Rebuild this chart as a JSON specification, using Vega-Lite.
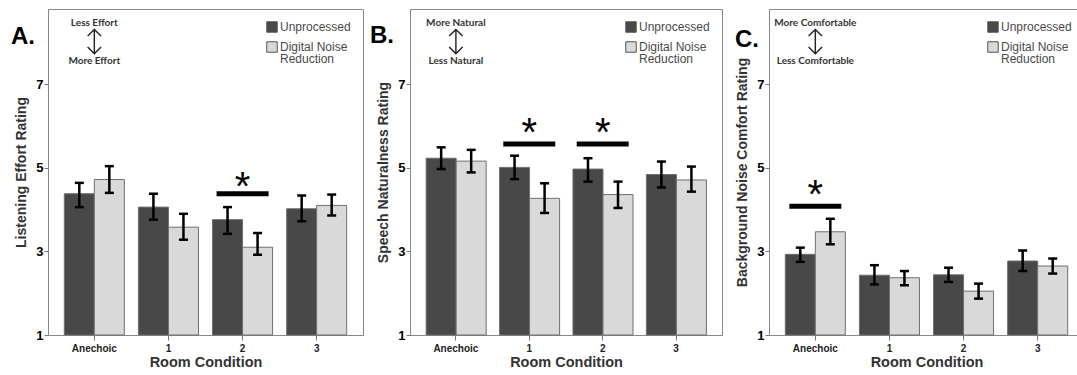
{
  "$schema": "https://vega.github.io/schema/vega-lite/v6.json",
  "padding": {"left": 10, "top": 8, "right": 0, "bottom": 0},
  "background": "white",
  "bounds": "flush",
  "spacing": 47,
  "config": {
    "view": {"stroke": "#888888", "strokeWidth": 1},
    "axis": {"labelFont": "Liberation Sans", "titleFont": "Liberation Sans", "grid": false, "domainColor": "#888888", "tickColor": "#777777"},
    "legend": {"labelFont": "Liberation Sans"},
    "style": {"guide-label": {"lineHeight": 12}}
  },
  "resolve": {"scale": {"color": "independent"}},
  "datasets": {
    "bars": [
      {"panel": "A", "room": "Anechoic", "proc": "Unprocessed", "mean": 4.38, "lo": 4.06, "hi": 4.64},
      {"panel": "A", "room": "Anechoic", "proc": "Digital Noise Reduction", "mean": 4.72, "lo": 4.40, "hi": 5.04},
      {"panel": "A", "room": "1", "proc": "Unprocessed", "mean": 4.06, "lo": 3.76, "hi": 4.38},
      {"panel": "A", "room": "1", "proc": "Digital Noise Reduction", "mean": 3.58, "lo": 3.28, "hi": 3.90},
      {"panel": "A", "room": "2", "proc": "Unprocessed", "mean": 3.76, "lo": 3.42, "hi": 4.06},
      {"panel": "A", "room": "2", "proc": "Digital Noise Reduction", "mean": 3.10, "lo": 2.92, "hi": 3.44},
      {"panel": "A", "room": "3", "proc": "Unprocessed", "mean": 4.02, "lo": 3.72, "hi": 4.34},
      {"panel": "A", "room": "3", "proc": "Digital Noise Reduction", "mean": 4.10, "lo": 3.86, "hi": 4.36},
      {"panel": "B", "room": "Anechoic", "proc": "Unprocessed", "mean": 5.23, "lo": 4.97, "hi": 5.49},
      {"panel": "B", "room": "Anechoic", "proc": "Digital Noise Reduction", "mean": 5.16, "lo": 4.89, "hi": 5.43},
      {"panel": "B", "room": "1", "proc": "Unprocessed", "mean": 5.01, "lo": 4.73, "hi": 5.29},
      {"panel": "B", "room": "1", "proc": "Digital Noise Reduction", "mean": 4.27, "lo": 3.92, "hi": 4.63},
      {"panel": "B", "room": "2", "proc": "Unprocessed", "mean": 4.97, "lo": 4.67, "hi": 5.23},
      {"panel": "B", "room": "2", "proc": "Digital Noise Reduction", "mean": 4.36, "lo": 4.04, "hi": 4.67},
      {"panel": "B", "room": "3", "proc": "Unprocessed", "mean": 4.84, "lo": 4.53, "hi": 5.15},
      {"panel": "B", "room": "3", "proc": "Digital Noise Reduction", "mean": 4.71, "lo": 4.43, "hi": 5.03},
      {"panel": "C", "room": "Anechoic", "proc": "Unprocessed", "mean": 2.93, "lo": 2.75, "hi": 3.09},
      {"panel": "C", "room": "Anechoic", "proc": "Digital Noise Reduction", "mean": 3.47, "lo": 3.17, "hi": 3.78},
      {"panel": "C", "room": "1", "proc": "Unprocessed", "mean": 2.43, "lo": 2.21, "hi": 2.67},
      {"panel": "C", "room": "1", "proc": "Digital Noise Reduction", "mean": 2.37, "lo": 2.19, "hi": 2.53},
      {"panel": "C", "room": "2", "proc": "Unprocessed", "mean": 2.44, "lo": 2.27, "hi": 2.61},
      {"panel": "C", "room": "2", "proc": "Digital Noise Reduction", "mean": 2.05, "lo": 1.87, "hi": 2.23},
      {"panel": "C", "room": "3", "proc": "Unprocessed", "mean": 2.77, "lo": 2.53, "hi": 3.02},
      {"panel": "C", "room": "3", "proc": "Digital Noise Reduction", "mean": 2.65, "lo": 2.47, "hi": 2.83}
    ],
    "sig": [
      {"panel": "A", "room": "2", "bar": 4.38, "star": 4.70},
      {"panel": "B", "room": "1", "bar": 5.57, "star": 6.0},
      {"panel": "B", "room": "2", "bar": 5.57, "star": 6.0},
      {"panel": "C", "room": "Anechoic", "bar": 4.08, "star": 4.52}
    ],
    "notes": [
      {"panel": "A", "room": "Anechoic", "label": "Less Effort", "y": 8.47},
      {"panel": "A", "room": "Anechoic", "label": "More Effort", "y": 7.56},
      {"panel": "B", "room": "Anechoic", "label": "More Natural", "y": 8.47},
      {"panel": "B", "room": "Anechoic", "label": "Less Natural", "y": 7.56},
      {"panel": "C", "room": "Anechoic", "label": "More Comfortable", "y": 8.47},
      {"panel": "C", "room": "Anechoic", "label": "Less Comfortable", "y": 7.56}
    ],
    "arrows": [
      {"panel": "A", "room": "Anechoic", "y": 8.02},
      {"panel": "B", "room": "Anechoic", "y": 8.02},
      {"panel": "C", "room": "Anechoic", "y": 8.02}
    ]
  },
  "hconcat": [
    {
      "width": 315, "height": 326,
      "title": {"text": "A.", "anchor": "start", "frame": "group", "orient": "top", "font": "Liberation Sans", "fontSize": 24, "fontWeight": "bold", "color": "black", "dx": -37, "dy": 59, "offset": 0, "baseline": "alphabetic"},
      "encoding": {
        "x": {"field": "room", "type": "nominal", "sort": ["Anechoic", "1", "2", "3"], "scale": {"paddingInner": 0.19, "paddingOuter": 0.22}, "title": "Room Condition",
          "axis": {"labelAngle": 0, "labelFontSize": 10, "labelFontWeight": "bold", "labelColor": "#222222", "tickSize": 5, "labelPadding": 3, "titleFontSize": 14.5, "titleFontWeight": "bold", "titleColor": "#333333", "titlePadding": 2}}
      },
      "layer": [
        {
          "data": {"name": "bars"}, "transform": [{"filter": "datum.panel == 'A'"}],
          "mark": {"type": "bar", "stroke": "#6f6f6f", "strokeWidth": 1},
          "encoding": {
            "xOffset": {"field": "proc", "type": "nominal", "sort": ["Unprocessed", "Digital Noise Reduction"], "scale": {"paddingInner": 0, "paddingOuter": 0}},
            "y": {"field": "mean", "type": "quantitative", "scale": {"domain": [1, 8.8], "nice": false, "zero": false}, "title": "Listening Effort Rating",
              "axis": {"values": [1, 3, 5, 7], "tickSize": 4, "labelPadding": 1, "labelFontSize": 13, "labelFontWeight": "bold", "labelColor": "black", "titleFontSize": 14, "titleFontWeight": "bold", "titleColor": "#333333", "titlePadding": 7}},
            "y2": {"datum": 1},
            "color": {"field": "proc", "type": "nominal", "scale": {"domain": ["Unprocessed", "Digital Noise Reduction"], "range": ["#484848", "#d9d9d9"]},
              "legend": {"title": null, "orient": "top-right", "offset": 12, "padding": 0, "symbolType": "square", "symbolSize": 110, "symbolStrokeColor": "#555555", "symbolStrokeWidth": 1, "labelFontSize": 12, "labelColor": "#4a4a4a", "labelOffset": 2, "rowPadding": 4, "labelLimit": 200,
                "labelExpr": "datum.label == 'Digital Noise Reduction' ? ['Digital Noise', 'Reduction'] : datum.label"}}
          }
        },
        {
          "data": {"name": "bars"}, "transform": [{"filter": "datum.panel == 'A'"}],
          "mark": {"type": "rule", "color": "black", "strokeWidth": 2.5},
          "encoding": {"xOffset": {"field": "proc", "type": "nominal", "sort": ["Unprocessed", "Digital Noise Reduction"]}, "y": {"field": "lo", "type": "quantitative"}, "y2": {"field": "hi"}}
        },
        {
          "data": {"name": "bars"}, "transform": [{"filter": "datum.panel == 'A'"}],
          "mark": {"type": "tick", "color": "black", "size": 9, "thickness": 2.5, "opacity": 1},
          "encoding": {"xOffset": {"field": "proc", "type": "nominal", "sort": ["Unprocessed", "Digital Noise Reduction"]}, "y": {"field": "lo", "type": "quantitative"}}
        },
        {
          "data": {"name": "bars"}, "transform": [{"filter": "datum.panel == 'A'"}],
          "mark": {"type": "tick", "color": "black", "size": 9, "thickness": 2.5, "opacity": 1},
          "encoding": {"xOffset": {"field": "proc", "type": "nominal", "sort": ["Unprocessed", "Digital Noise Reduction"]}, "y": {"field": "hi", "type": "quantitative"}}
        },
        {
          "data": {"name": "sig"}, "transform": [{"filter": "datum.panel == 'A'"}],
          "mark": {"type": "tick", "color": "black", "size": 52, "thickness": 5, "opacity": 1},
          "encoding": {"y": {"field": "bar", "type": "quantitative"}}
        },
        {
          "data": {"name": "sig"}, "transform": [{"filter": "datum.panel == 'A'"}],
          "mark": {"type": "text", "text": "*", "font": "Liberation Sans", "fontSize": 40, "baseline": "middle", "dy": 8, "color": "black"},
          "encoding": {"y": {"field": "star", "type": "quantitative"}}
        },
        {
          "data": {"name": "notes"}, "transform": [{"filter": "datum.panel == 'A'"}],
          "mark": {"type": "text", "font": "Lato", "fontSize": 10, "fontWeight": "bold", "color": "#333333", "baseline": "middle"},
          "encoding": {"y": {"field": "y", "type": "quantitative"}, "text": {"field": "label"}}
        },
        {
          "data": {"name": "arrows"}, "transform": [{"filter": "datum.panel == 'A'"}],
          "mark": {"type": "point", "shape": "M-0.55,-0.45L0,-1L0.55,-0.45M0,-1L0,1M-0.55,0.45L0,1L0.55,0.45", "size": 595, "filled": false, "color": "#222222", "strokeWidth": 1.4, "opacity": 1},
          "encoding": {"y": {"field": "y", "type": "quantitative"}}
        }
      ]
    },
    {
      "width": 312, "height": 326,
      "title": {"text": "B.", "anchor": "start", "frame": "group", "orient": "top", "font": "Liberation Sans", "fontSize": 24, "fontWeight": "bold", "color": "black", "dx": -40, "dy": 58, "offset": 0, "baseline": "alphabetic"},
      "encoding": {
        "x": {"field": "room", "type": "nominal", "sort": ["Anechoic", "1", "2", "3"], "scale": {"paddingInner": 0.19, "paddingOuter": 0.22}, "title": "Room Condition",
          "axis": {"labelAngle": 0, "labelFontSize": 10, "labelFontWeight": "bold", "labelColor": "#222222", "tickSize": 5, "labelPadding": 3, "titleFontSize": 14.5, "titleFontWeight": "bold", "titleColor": "#333333", "titlePadding": 2}}
      },
      "layer": [
        {
          "data": {"name": "bars"}, "transform": [{"filter": "datum.panel == 'B'"}],
          "mark": {"type": "bar", "stroke": "#6f6f6f", "strokeWidth": 1},
          "encoding": {
            "xOffset": {"field": "proc", "type": "nominal", "sort": ["Unprocessed", "Digital Noise Reduction"], "scale": {"paddingInner": 0, "paddingOuter": 0}},
            "y": {"field": "mean", "type": "quantitative", "scale": {"domain": [1, 8.8], "nice": false, "zero": false}, "title": "Speech Naturalness Rating",
              "axis": {"values": [1, 3, 5, 7], "tickSize": 4, "labelPadding": 1, "labelFontSize": 13, "labelFontWeight": "bold", "labelColor": "black", "titleFontSize": 14, "titleFontWeight": "bold", "titleColor": "#333333", "titlePadding": 7}},
            "y2": {"datum": 1},
            "color": {"field": "proc", "type": "nominal", "scale": {"domain": ["Unprocessed", "Digital Noise Reduction"], "range": ["#484848", "#d9d9d9"]},
              "legend": {"title": null, "orient": "top-right", "offset": 12, "padding": 0, "symbolType": "square", "symbolSize": 110, "symbolStrokeColor": "#555555", "symbolStrokeWidth": 1, "labelFontSize": 12, "labelColor": "#4a4a4a", "labelOffset": 2, "rowPadding": 4, "labelLimit": 200,
                "labelExpr": "datum.label == 'Digital Noise Reduction' ? ['Digital Noise', 'Reduction'] : datum.label"}}
          }
        },
        {
          "data": {"name": "bars"}, "transform": [{"filter": "datum.panel == 'B'"}],
          "mark": {"type": "rule", "color": "black", "strokeWidth": 2.5},
          "encoding": {"xOffset": {"field": "proc", "type": "nominal", "sort": ["Unprocessed", "Digital Noise Reduction"]}, "y": {"field": "lo", "type": "quantitative"}, "y2": {"field": "hi"}}
        },
        {
          "data": {"name": "bars"}, "transform": [{"filter": "datum.panel == 'B'"}],
          "mark": {"type": "tick", "color": "black", "size": 9, "thickness": 2.5, "opacity": 1},
          "encoding": {"xOffset": {"field": "proc", "type": "nominal", "sort": ["Unprocessed", "Digital Noise Reduction"]}, "y": {"field": "lo", "type": "quantitative"}}
        },
        {
          "data": {"name": "bars"}, "transform": [{"filter": "datum.panel == 'B'"}],
          "mark": {"type": "tick", "color": "black", "size": 9, "thickness": 2.5, "opacity": 1},
          "encoding": {"xOffset": {"field": "proc", "type": "nominal", "sort": ["Unprocessed", "Digital Noise Reduction"]}, "y": {"field": "hi", "type": "quantitative"}}
        },
        {
          "data": {"name": "sig"}, "transform": [{"filter": "datum.panel == 'B'"}],
          "mark": {"type": "tick", "color": "black", "size": 52, "thickness": 5, "opacity": 1},
          "encoding": {"y": {"field": "bar", "type": "quantitative"}}
        },
        {
          "data": {"name": "sig"}, "transform": [{"filter": "datum.panel == 'B'"}],
          "mark": {"type": "text", "text": "*", "font": "Liberation Sans", "fontSize": 40, "baseline": "middle", "dy": 8, "color": "black"},
          "encoding": {"y": {"field": "star", "type": "quantitative"}}
        },
        {
          "data": {"name": "notes"}, "transform": [{"filter": "datum.panel == 'B'"}],
          "mark": {"type": "text", "font": "Lato", "fontSize": 10, "fontWeight": "bold", "color": "#333333", "baseline": "middle"},
          "encoding": {"y": {"field": "y", "type": "quantitative"}, "text": {"field": "label"}}
        },
        {
          "data": {"name": "arrows"}, "transform": [{"filter": "datum.panel == 'B'"}],
          "mark": {"type": "point", "shape": "M-0.55,-0.45L0,-1L0.55,-0.45M0,-1L0,1M-0.55,0.45L0,1L0.55,0.45", "size": 595, "filled": false, "color": "#222222", "strokeWidth": 1.4, "opacity": 1},
          "encoding": {"y": {"field": "y", "type": "quantitative"}}
        }
      ]
    },
    {
      "width": 315, "height": 326,
      "title": {"text": "C.", "anchor": "start", "frame": "group", "orient": "top", "font": "Liberation Sans", "fontSize": 24, "fontWeight": "bold", "color": "black", "dx": -34, "dy": 62, "offset": 0, "baseline": "alphabetic"},
      "encoding": {
        "x": {"field": "room", "type": "nominal", "sort": ["Anechoic", "1", "2", "3"], "scale": {"paddingInner": 0.19, "paddingOuter": 0.22}, "title": "Room Condition",
          "axis": {"labelAngle": 0, "labelFontSize": 10, "labelFontWeight": "bold", "labelColor": "#222222", "tickSize": 5, "labelPadding": 3, "titleFontSize": 14.5, "titleFontWeight": "bold", "titleColor": "#333333", "titlePadding": 2}}
      },
      "layer": [
        {
          "data": {"name": "bars"}, "transform": [{"filter": "datum.panel == 'C'"}],
          "mark": {"type": "bar", "stroke": "#6f6f6f", "strokeWidth": 1},
          "encoding": {
            "xOffset": {"field": "proc", "type": "nominal", "sort": ["Unprocessed", "Digital Noise Reduction"], "scale": {"paddingInner": 0, "paddingOuter": 0}},
            "y": {"field": "mean", "type": "quantitative", "scale": {"domain": [1, 8.8], "nice": false, "zero": false}, "title": "Background Noise Comfort Rating",
              "axis": {"values": [1, 3, 5, 7], "tickSize": 4, "labelPadding": 1, "labelFontSize": 13, "labelFontWeight": "bold", "labelColor": "black", "titleFontSize": 14, "titleFontWeight": "bold", "titleColor": "#333333", "titlePadding": 7}},
            "y2": {"datum": 1},
            "color": {"field": "proc", "type": "nominal", "scale": {"domain": ["Unprocessed", "Digital Noise Reduction"], "range": ["#484848", "#d9d9d9"]},
              "legend": {"title": null, "orient": "top-right", "offset": 12, "padding": 0, "symbolType": "square", "symbolSize": 110, "symbolStrokeColor": "#555555", "symbolStrokeWidth": 1, "labelFontSize": 12, "labelColor": "#4a4a4a", "labelOffset": 2, "rowPadding": 4, "labelLimit": 200,
                "labelExpr": "datum.label == 'Digital Noise Reduction' ? ['Digital Noise', 'Reduction'] : datum.label"}}
          }
        },
        {
          "data": {"name": "bars"}, "transform": [{"filter": "datum.panel == 'C'"}],
          "mark": {"type": "rule", "color": "black", "strokeWidth": 2.5},
          "encoding": {"xOffset": {"field": "proc", "type": "nominal", "sort": ["Unprocessed", "Digital Noise Reduction"]}, "y": {"field": "lo", "type": "quantitative"}, "y2": {"field": "hi"}}
        },
        {
          "data": {"name": "bars"}, "transform": [{"filter": "datum.panel == 'C'"}],
          "mark": {"type": "tick", "color": "black", "size": 9, "thickness": 2.5, "opacity": 1},
          "encoding": {"xOffset": {"field": "proc", "type": "nominal", "sort": ["Unprocessed", "Digital Noise Reduction"]}, "y": {"field": "lo", "type": "quantitative"}}
        },
        {
          "data": {"name": "bars"}, "transform": [{"filter": "datum.panel == 'C'"}],
          "mark": {"type": "tick", "color": "black", "size": 9, "thickness": 2.5, "opacity": 1},
          "encoding": {"xOffset": {"field": "proc", "type": "nominal", "sort": ["Unprocessed", "Digital Noise Reduction"]}, "y": {"field": "hi", "type": "quantitative"}}
        },
        {
          "data": {"name": "sig"}, "transform": [{"filter": "datum.panel == 'C'"}],
          "mark": {"type": "tick", "color": "black", "size": 52, "thickness": 5, "opacity": 1},
          "encoding": {"y": {"field": "bar", "type": "quantitative"}}
        },
        {
          "data": {"name": "sig"}, "transform": [{"filter": "datum.panel == 'C'"}],
          "mark": {"type": "text", "text": "*", "font": "Liberation Sans", "fontSize": 40, "baseline": "middle", "dy": 8, "color": "black"},
          "encoding": {"y": {"field": "star", "type": "quantitative"}}
        },
        {
          "data": {"name": "notes"}, "transform": [{"filter": "datum.panel == 'C'"}],
          "mark": {"type": "text", "font": "Lato", "fontSize": 10, "fontWeight": "bold", "color": "#333333", "baseline": "middle"},
          "encoding": {"y": {"field": "y", "type": "quantitative"}, "text": {"field": "label"}}
        },
        {
          "data": {"name": "arrows"}, "transform": [{"filter": "datum.panel == 'C'"}],
          "mark": {"type": "point", "shape": "M-0.55,-0.45L0,-1L0.55,-0.45M0,-1L0,1M-0.55,0.45L0,1L0.55,0.45", "size": 595, "filled": false, "color": "#222222", "strokeWidth": 1.4, "opacity": 1},
          "encoding": {"y": {"field": "y", "type": "quantitative"}}
        }
      ]
    }
  ]
}
